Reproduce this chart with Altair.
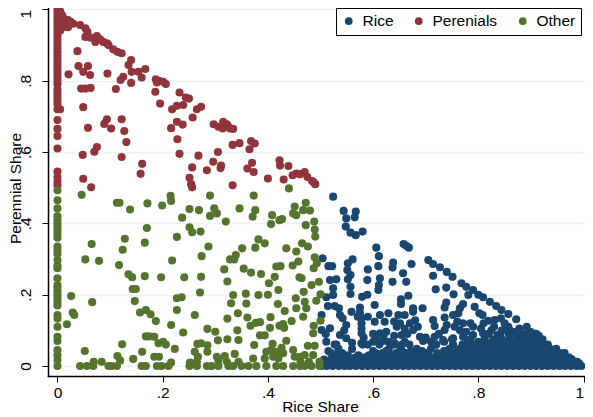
import altair as alt
import pandas as pd

TICKS = [0, 0.2, 0.4, 0.6, 0.8, 1]
SERIES = ["Rice", "Perenials", "Other"]
COLORS = ["#1a476f", "#90353b", "#55752f"]

rice_base_x = [.502,.512,.523,.535,.546,.556,.567,.579,.59,.601,.612,.623,.635,.646,.657,.668,.679,.69,.701,.712,.723,.734,.745,.756,.767,.778,.789,.8,.811,.822,.833,.844,.855,.866,.877,.888,.899,.91,.921,.932,.943,.954,.965,.976,.987,.996]
rice_row1_x = [.513,.528,.543,.56,.574,.592,.606,.62,.637,.652,.664,.68,.695,.709,.726,.74,.754,.769,.783,.797,.811,.825,.839,.853,.867,.881,.895,.909,.923,.937,.951,.965,.979,.988]
rice_row2_x = [.548,.566,.583,.61,.627,.655,.671,.688,.712,.731,.748,.763,.778,.792,.806,.82,.834,.848,.862,.876,.89,.904,.918,.932,.946,.96,.973]
rice_row3_x = [.52,.541,.605,.618,.644,.663,.7,.722,.738,.757,.772,.787,.801,.815,.829,.843,.857,.871,.885,.899,.913,.927,.941,.955,.964]
rice_row4_x = [.534,.56,.63,.652,.683,.71,.745,.765,.78,.796,.81,.824,.838,.852,.866,.88,.894,.908,.922,.936,.948]
rice_row5_x = [.527,.58,.612,.64,.669,.72,.752,.77,.79,.806,.82,.834,.848,.862,.876,.89,.904,.918,.932]
rice_row6_x = [.75,.785,.812,.83,.845,.86,.875,.888,.9,.912,.922]
rice_row7_x = [.82,.842,.858,.872,.886,.898,.91]
rice_fill1_x = [.507,.518,.53,.541,.552,.563,.573,.585,.596,.607,.618,.629,.641,.652,.663,.674,.685,.696,.707,.718,.729,.74,.751,.762,.773,.784,.795,.806,.817,.828,.839,.85,.861,.872,.883,.894,.905,.916,.927,.938,.949,.96,.971,.982,.992]
rice_fill2_x = [.507,.521,.535,.556,.6,.618,.645,.675,.695,.72,.74,.756,.771,.785,.799,.813,.827,.841,.855,.869,.883,.897,.911,.925,.939,.953,.967,.978]
rice_fill3_x = [.53,.552,.572,.592,.635,.662,.682,.705,.73,.75,.765,.78,.795,.808,.822,.836,.85,.864,.878,.892,.906,.92,.934,.948,.958]
rice_fill4_x = [.515,.6,.625,.655,.672,.693,.735,.76,.775,.8,.815,.828,.842,.856,.87,.884,.898,.912,.926,.938]
rice_fill5_x = [.6,.63,.66,.71,.735,.78,.8,.826,.84,.853,.868,.881,.895,.907,.918]
rice_upper = [(.524,.475),(.544,.435),(.567,.433),(.565,.417),(.549,.414),(.548,.391),(.557,.374),(.567,.367),(.58,.377),(.606,.332),(.611,.308),(.658,.342),(.668,.332),(.663,.337),(.638,.29),(.637,.276),(.61,.28),(.59,.271),(.673,.286),(.657,.26),(.504,.302),(.515,.28),(.522,.28),(.561,.299),(.552,.288),(.551,.269),(.557,.255),(.589,.241),(.613,.246),(.611,.227),(.61,.213),(.637,.236),(.663,.236),(.518,.241),(.53,.243),(.524,.218),(.552,.243),(.557,.222),(.557,.202),(.524,.199),(.511,.193),(.579,.194),(.589,.2),(.667,.197),(.653,.187),(.653,.174),(.603,.171),(.514,.168),(.527,.168),(.535,.162),(.575,.164),(.559,.152),(.676,.162),(.694,.162),(.676,.152),(.705,.297),(.714,.286),(.727,.277),(.74,.264),(.751,.25),(.714,.253),(.719,.215),(.739,.22),(.753,.201),(.768,.232),(.777,.222),(.79,.213),(.781,.199),(.80,.2),(.809,.193),(.822,.18),(.834,.168),(.844,.157),(.857,.146),(.872,.131),(.739,.178),(.736,.164),(.771,.174),(.793,.166),(.765,.162),(.752,.143),(.736,.136),(.762,.148),(.802,.148),(.808,.143),(.819,.127),(.831,.129),(.843,.134),(.892,.11),(.857,.11),(.537,.143),(.542,.134),(.502,.143),(.549,.115),(.571,.138),(.59,.138),(.578,.12),(.629,.148),(.613,.143),(.603,.124),(.622,.124),(.648,.143),(.66,.143),(.651,.12),(.67,.12),(.714,.129),(.717,.112),(.518,.106),(.502,.101),(.625,.096),(.613,.092),(.578,.092),(.654,.087),(.676,.101),(.689,.082),(.537,.087),(.549,.078),(.511,.068),(.578,.064),(.606,.073),(.641,.064),(.736,.101),(.755,.11),(.771,.12),(.79,.11),(.777,.096),(.717,.082),(.733,.073),(.752,.078),(.771,.082),(.79,.087),(.809,.092),(.837,.087),(.845,.1),(.87,.095),(.578,.105),(.66,.105),(.645,.11),(.575,.15),(.53,.06),(.56,.065),(.59,.06),(.62,.07),(.655,.06),(.70,.08),(.72,.06),(.765,.1),(.578,.135),(.582,.08),(.68,.128),(.64,.125),(.665,.09),(.685,.11),(.695,.07),(.725,.09),(.74,.115),(.76,.125),(.785,.12),(.805,.105),(.825,.1),(.85,.12),(.878,.105),(.9,.095),(.915,.085),(.51,.09),(.545,.1),(.62,.085),(.6,.09),(.64,.085),(.81,.12),(.83,.11),(.86,.1)]

perenials = [(0,1.0),(0,.99),(0,.98),(0,.97),(0,.96),(0,.95),(0,.94),(0,.93),(0,.92),(0,.91),(0,.90),(0,.89),(0,.88),(0,.87),(0,.86),(0,.85),(0,.84),(0,.83),(0,.82),(0,.81),(0,.80),(0,.79),(0,.775),(0,.765),(0,.755),(0,.745),(0,.735),(0,.72),(0,.69),(0,.665),(0,.645),(0,.61),(0,.545),(0,.53),(0,.517),(0,.507),
(.005,.995),(.008,.985),(.01,.98),(.02,.97),(.015,.96),(.025,.965),(.03,.96),(.01,.95),(.02,.95),(.005,.97),(.005,.94),(.012,.97),(.043,.956),(.053,.947),(.057,.937),(.053,.923),(.062,.921),(.075,.925),(.081,.916),(.072,.909),(.087,.909),(.094,.905),(.097,.9),(.106,.888),(.114,.881),(.122,.877),(.038,.883),(.04,.841),(.058,.841),(.049,.825),(.062,.816),(.021,.818),(.095,.82),(.14,.858),(.135,.844),(.141,.825),(.154,.825),(.167,.833),(.16,.809),(.125,.811),(.12,.802),(.14,.794),(.111,.777),(.045,.778),(.053,.778),(.063,.78),(.187,.804),(.194,.799),(.201,.797),(.206,.791),(.189,.795),(.186,.769),(.195,.736),(.232,.767),(.244,.753),(.25,.75),(.227,.73),(.218,.72),(.239,.732),(.265,.72),(.273,.727),(.049,.726),(.005,.72),(.094,.692),(.089,.679),(.102,.666),(.058,.668),(.122,.692),(.127,.659),(.131,.628),(.075,.614),(.07,.601),(.048,.592),(.122,.586),(.161,.567),(.158,.539),(.049,.525),(.064,.501),(.216,.667),(.227,.685),(.238,.677),(.228,.636),(.232,.595),(.268,.59),(.257,.697),(.256,.557),(.251,.528),(.254,.51),(.256,.501),(.284,.549),(.296,.573),(.311,.562),(.31,.555),(.305,.6),(.333,.62),(.346,.625),(.297,.678),(.306,.671),(.315,.685),(.314,.666),(.322,.678),(.328,.666),(.334,.665),(.325,.671),(.368,.631),(.375,.624),(.365,.608),(.37,.57),(.361,.554),(.373,.544),(.333,.507),(.4,.526),(.422,.577),(.423,.562),(.439,.561),(.43,.523),(.447,.535),(.454,.54),(.461,.538),(.47,.544),(.475,.53),(.484,.519),(.49,.51),(.487,.515)]

other_column_y = [.493,.465,.442,.42,.41,.40,.39,.38,.37,.36,.335,.325,.315,.297,.274,.282,.246,.227,.22,.21,.2,.19,.18,.17,.143,.133,.11,.082,.07,.045,.03,.017,0]
other_base_x = [.043,.056,.068,.097,.103,.113,.16,.168,.189,.198,.211,.251,.265,.284,.293,.306,.325,.334,.35,.363,.378,.397,.416,.429,.448,.461,.47,.483,.498]
other_points = [(.026,.196),(.066,.179),(.029,.15),(.032,.143),(.018,.117),(.065,.342),(.053,.299),(.079,.295),(.117,.283),(.124,.326),(.128,.357),(.118,.458),(.113,.458),(.138,.439),(.171,.456),(.199,.45),(.216,.463),(.046,.48),(.215,.477),(.29,.478),(.373,.478),(.44,.498),(.451,.447),(.17,.387),(.166,.346),(.218,.296),(.135,.257),(.142,.249),(.166,.252),(.197,.249),(.241,.249),(.273,.25),(.271,.206),(.143,.216),(.149,.216),(.147,.182),(.157,.15),(.168,.157),(.177,.145),(.187,.126),(.227,.19),(.236,.193),(.227,.157),(.261,.143),(.216,.115),(.239,.094),(.168,.083),(.174,.083),(.184,.082),(.123,.061),(.052,.042),(.161,.04),(.192,.064),(.201,.068),(.206,.06),(.223,.048),(.114,.028),(.119,.015),(.184,.026),(.193,.026),(.144,.02),(.084,.012),(.069,.012),(.216,.01),(.251,.44),(.269,.437),(.29,.421),(.298,.442),(.303,.428),(.32,.405),(.237,.416),(.251,.389),(.256,.375),(.272,.377),(.227,.362),(.287,.335),(.274,.308),(.346,.442),(.371,.419),(.376,.437),(.408,.423),(.406,.398),(.422,.409),(.427,.412),(.448,.428),(.454,.423),(.351,.33),(.339,.311),(.328,.299),(.336,.299),(.317,.271),(.323,.237),(.354,.273),(.368,.262),(.387,.258),(.376,.332),(.382,.355),(.394,.344),(.435,.33),(.454,.321),(.416,.279),(.424,.28),(.447,.282),(.458,.293),(.413,.25),(.402,.232),(.42,.213),(.46,.249),(.334,.199),(.358,.203),(.382,.199),(.4,.2),(.453,.19),(.33,.176),(.359,.175),(.419,.174),(.454,.162),(.432,.154),(.323,.133),(.343,.148),(.361,.136),(.405,.137),(.367,.113),(.377,.121),(.385,.123),(.445,.126),(.422,.113),(.429,.118),(.431,.107),(.404,.107),(.342,.1),(.285,.104),(.3,.096),(.385,.086),(.394,.086),(.305,.072),(.323,.075),(.344,.073),(.374,.059),(.435,.071),(.266,.062),(.273,.064),(.285,.058),(.285,.04),(.261,.04),(.267,.026),(.303,.026),(.318,.028),(.337,.034),(.372,.021),(.409,.062),(.397,.04),(.406,.045),(.416,.04),(.426,.051),(.429,.036),(.448,.045),(.451,.026),(.461,.026),(.394,.021),(.41,.026),(.42,.021),(.252,.01),(.322,.012),(.344,.012),(.306,.015),(.265,.012),(.472,.458),(.48,.436),(.467,.437),(.472,.395),(.488,.405),(.489,.383),(.49,.363),(.465,.344),(.476,.335),(.489,.305),(.493,.288),(.487,.274),(.464,.246),(.497,.236),(.483,.227),(.468,.208),(.5,.201),(.492,.183),(.47,.18),(.473,.162),(.467,.138),(.5,.127),(.487,.113),(.486,.092),(.476,.057),(.489,.057),(.47,.031),(.486,.031),(.498,.012),(.478,.012),(.462,.012)]

rice_rows = [(0, rice_base_x), (.012, rice_row1_x), (.024, rice_row2_x), (.036, rice_row3_x), (.048, rice_row4_x), (.06, rice_row5_x), (.075, rice_row6_x), (.09, rice_row7_x),
             (.006, rice_fill1_x), (.018, rice_fill2_x), (.03, rice_fill3_x), (.042, rice_fill4_x), (.068, rice_fill5_x)]

rows = []
for y, xs in rice_rows:
    rows += [("Rice", x, y) for x in xs]
rows += [("Rice", x, y) for x, y in rice_upper]
rows += [("Perenials", x, y) for x, y in perenials]
rows += [("Other", 0, y) for y in other_column_y]
rows += [("Other", x, 0) for x in other_base_x]
rows += [("Other", x, y) for x, y in other_points]
df = pd.DataFrame(rows, columns=["group", "rice", "perennial"])

FONT = "Liberation Sans"
FMT = "datum.value == 0 ? '0' : datum.value == 1 ? '1' : replace(format(datum.value, '.1f'), '0.', '.')"

chart = (
    alt.Chart(df)
    .mark_circle(size=66, opacity=1, clip=False)
    .encode(
        x=alt.X(
            "rice:Q",
            scale=alt.Scale(domain=[-0.018, 1.018], nice=False, zero=False, range=[0, 545]),
            axis=alt.Axis(
                title="Rice Share", values=TICKS, grid=False, labelExpr=FMT,
                labelAlign=alt.expr("datum.value == 1 ? 'right' : 'center'"),
                tickSize=6, tickColor="#000000", domainColor="#000000", domainWidth=1.5,
                labelFont=FONT, labelFontSize=15.5, labelColor="#000000", labelPadding=3,
                titleFont=FONT, titleFontSize=15.5, titleFontWeight="normal", titleColor="#000000",
                titleX=272, titleY=38, titleBaseline="bottom",
            ),
        ),
        y=alt.Y(
            "perennial:Q",
            scale=alt.Scale(domain=[-0.028, 1.004], nice=False, zero=False),
            axis=alt.Axis(
                title="Perennial Share", values=TICKS, grid=True, gridColor="#eaf2f3", gridWidth=1.5,
                labelExpr=FMT, labelAngle=270, labelBaseline="bottom",
                labelAlign=alt.expr("datum.value == 1 ? 'right' : 'center'"),
                tickSize=6, tickColor="#000000", domainColor="#000000", domainWidth=1.5,
                labelFont=FONT, labelFontSize=15.5, labelColor="#000000", labelPadding=9,
                titleFont=FONT, titleFontSize=15.5, titleFontWeight="normal", titleColor="#000000",
                titleX=-25, titleY=180, titleBaseline="bottom",
            ),
        ),
        color=alt.Color(
            "group:N",
            scale=alt.Scale(domain=SERIES, range=COLORS),
            legend=alt.Legend(
                title=None, orient="none", legendX=288, legendY=0, direction="horizontal", columns=3,
                fillColor="#ffffff", strokeColor="#000000", padding=5,
                symbolType="circle", symbolSize=59, symbolOpacity=1,
                labelFont=FONT, labelFontSize=15.5, labelColor="#000000",
                columnPadding=17, labelOffset=6,
            ),
        ),
    )
    .properties(
        width=537, height=368,
        padding={"left": 40, "top": 0, "right": 0, "bottom": 41},
        autosize=alt.AutoSizeParams(type="none"),
    )
    .configure_view(stroke=None)
    .configure_axis(domainCap="square")
)
chart.save("out.html", embed_options={"renderer": "svg", "actions": False})
